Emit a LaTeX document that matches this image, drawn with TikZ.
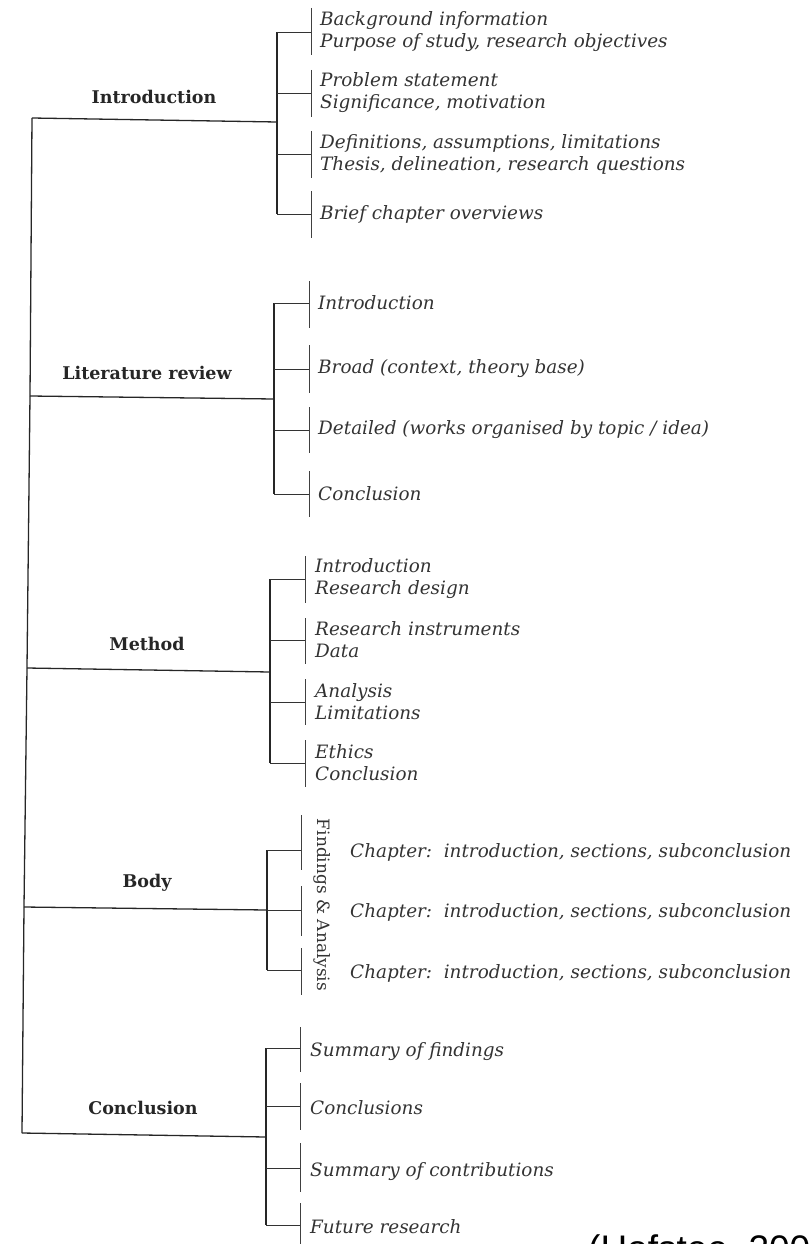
\documentclass[tikz,border=0pt]{standalone}
\usepackage{fontspec}
\setmainfont{DejaVu Serif}
\newfontfamily\citefont{Liberation Sans}
\begin{document}
\begin{tikzpicture}[x=1pt,y=-1pt,
  line/.style={draw=black!85,line width=1.3pt},
  tick/.style={draw=black!80,line width=0.9pt},
  bar/.style={draw=black!75,line width=1pt},
  head/.style={font=\fontsize{17.5}{20}\selectfont\bfseries,text=black!85,inner sep=0pt},
  item/.style={font=\fontsize{18.4}{22}\selectfont\itshape,text=black!80,anchor=west,align=left,inner sep=0pt}]
\useasboundingbox (0,0) rectangle (810,1244);
\clip (0,0) rectangle (810,1244);
% spine
\coordinate (s1) at (32,118);
\coordinate (s2) at (30,396);
\coordinate (s3) at (27,668);
\coordinate (s4) at (24,907);
\coordinate (s5) at (22,1133);
\draw[line] (s1) -- (s2) -- (s3) -- (s4) -- (s5);
% ---------------- Introduction
\node[head] (hI) at (154,97) {Introduction};
\coordinate (bI) at (277,122);
\draw[line] (s1) -- (bI);
\draw[line] (277,32) -- (277,214);
\foreach \y/\a/\b in {32/8/55,93/70/117,154/131/178,214/191/238}{
  \coordinate (tI\y) at (277,\y);
  \coordinate (pI\y) at (311,\y);
  \draw[tick] (tI\y) -- (pI\y);
  \draw[bar] (311,\a) -- (311,\b);
}
\node[item] (iI1) at (320,32) {Background information\\Purpose of study, research objectives};
\node[item] (iI2) at (320,93) {Problem statement\\Significance, motivation};
\node[item] (iI3) at (320,154) {Definitions, assumptions, limitations\\Thesis, delineation, research questions};
\node[item] (iI4) at (320,214) {Brief chapter overviews};
% ---------------- Literature review
\node[head] (hL) at (147,373) {Literature review};
\coordinate (bL) at (274,399);
\draw[line] (s2) -- (bL);
\draw[line] (274,303) -- (274,494);
\foreach \y/\a/\b in {303/281/328,369/345/393,430/407/453,494/471/517}{
  \coordinate (tL\y) at (274,\y);
  \coordinate (pL\y) at (309,\y);
  \draw[tick] (tL\y) -- (pL\y);
  \draw[bar] (309,\a) -- (309,\b);
}
\node[item] (iL1) at (318,303) {Introduction};
\node[item] (iL2) at (318,369) {Broad (context, theory base)};
\node[item] (iL3) at (318,430) {Detailed (works organised by topic / idea)};
\node[item] (iL4) at (318,494) {Conclusion};
% ---------------- Method
\node[head] (hM) at (147,644) {Method};
\coordinate (bM) at (270,672);
\draw[line] (s3) -- (bM);
\draw[line] (270,579) -- (270,763);
\foreach \y/\a/\b in {579/556/603,640/618/664,702/679/725,763/740/787}{
  \coordinate (tM\y) at (270,\y);
  \coordinate (pM\y) at (305,\y);
  \draw[tick] (tM\y) -- (pM\y);
  \draw[bar] (305,\a) -- (305,\b);
}
\node[item] (iM1) at (315,579) {Introduction\\Research design};
\node[item] (iM2) at (315,640) {Research instruments\\Data};
\node[item] (iM3) at (315,702) {Analysis\\Limitations};
\node[item] (iM4) at (315,763) {Ethics\\Conclusion};
% ---------------- Body
\node[head] (hB) at (147,883) {Body};
\coordinate (bB) at (267,910);
\draw[line] (s4) -- (bB);
\draw[line] (267,850) -- (267,970);
\foreach \y/\a/\b in {850/815/870,910/886/936,970/948/995}{
  \coordinate (tB\y) at (267,\y);
  \coordinate (pB\y) at (301,\y);
  \draw[tick] (tB\y) -- (pB\y);
  \draw[bar] (301,\a) -- (301,\b);
}
\node[font=\fontsize{17}{20}\selectfont,text=black!80,rotate=-90,inner sep=0pt] (fa) at (322,905) {Findings \& Analysis};
\node[item] (cB1) at (350,852) {Chapter:\ \ introduction, sections, subconclusion};
\node[item] (cB2) at (350,912) {Chapter:\ \ introduction, sections, subconclusion};
\node[item] (cB3) at (350,973) {Chapter:\ \ introduction, sections, subconclusion};
% ---------------- Conclusion
\node[head] (hC) at (143,1108) {Conclusion};
\coordinate (bC) at (266,1137);
\draw[line] (s5) -- (bC);
\draw[line] (266,1048) -- (266,1225);
\foreach \y/\a/\b in {1048/1027/1072,1106/1083/1130,1168/1143/1192,1225/1203/1252}{
  \coordinate (tC\y) at (266,\y);
  \coordinate (pC\y) at (300,\y);
  \draw[tick] (tC\y) -- (pC\y);
  \draw[bar] (300,\a) -- (300,\b);
}
\node[item] (iC1) at (310,1052) {Summary of findings};
\node[item] (iC2) at (310,1108) {Conclusions};
\node[item] (iC3) at (310,1172) {Summary of contributions};
\node[item] (iC4) at (310,1227) {Future research};
% citation (cut by the lower edge)
\node[font=\fontsize{37}{40}\citefont,anchor=base west,inner sep=0pt] (cit) at (588,1261) {(Hofstee, 2006)};
\end{tikzpicture}
\end{document}
